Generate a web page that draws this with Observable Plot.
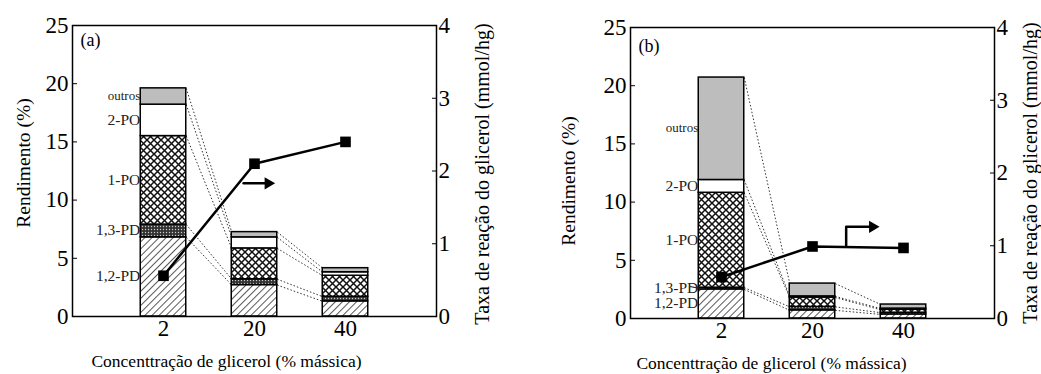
<!DOCTYPE html>
<html><head><meta charset="utf-8">
<script src="https://cdn.jsdelivr.net/npm/d3@7"></script>
<script src="https://cdn.jsdelivr.net/npm/@observablehq/plot@0.6"></script>
<style>
body{margin:0;background:#fff;}
#wrap{position:relative;width:1041px;height:374px;overflow:hidden;}
#wrap svg{position:absolute;top:0;}
#wrap svg, #wrap svg text{font-family:"Liberation Serif","DejaVu Serif",serif !important;}
</style></head><body><div id="wrap"></div>
<script>
// ---- data ----
const concentrations = ["2", "20", "40"];
const components = ["1,2-PD", "1,3-PD", "1-PO", "2-PO", "outros"];
// panel (a) yields (%) per component, one value per concentration
const a_12PD   = [6.8, 2.7, 1.3];
const a_13PD   = [1.1, 0.5, 0.4];
const a_1PO    = [7.6, 2.65, 1.8];
const a_2PO    = [2.7, 0.95, 0.3];
const a_outros = [1.4, 0.45, 0.35];
const a_rate   = [0.56, 2.10, 2.40];
// panel (b)
const b_12PD   = [2.5, 0.7, 0.35];
const b_13PD   = [0.15, 0.3, 0.15];
const b_1PO    = [8.15, 0.8, 0.25];
const b_2PO    = [1.1, 0.1, 0.1];
const b_outros = [8.8, 1.1, 0.35];
const b_rate   = [0.57, 0.99, 0.97];
const leftTicks = [0, 5, 10, 15, 20, 25];
const rightTicks = [0, 1, 2, 3, 4];
const xTitle = "Concenttração de glicerol (% mássica)";
const yTitle = "Rendimento (%)";
const y2Title = "Taxa de reação do glicerol (mmol/hg)";
// arrows pointing to the right axis (x in category units, rate units)
const arrowA = [{x: 1.88, r: 1.83}, {x: 2.15, r: 1.83}];
const arrowB = [{x: 2.37, r: 0.985}, {x: 2.37, r: 1.26}, {x: 2.66, r: 1.26}];

const K = 25 / 4; // right axis -> left axis units
const HW = 0.25;  // half bar width in category units

function addDefs(svg, p) {
  const defs = d3.select(svg).insert("defs", ":first-child");
  const d = defs.append("pattern").attr("id", p + "-diag").attr("patternUnits", "userSpaceOnUse")
    .attr("width", 5).attr("height", 5).attr("patternTransform", "rotate(45)");
  d.append("rect").attr("width", 5).attr("height", 5).attr("fill", "white");
  d.append("line").attr("x1", 0).attr("y1", 0).attr("x2", 0).attr("y2", 5).attr("stroke", "#111").attr("stroke-width", 1.4);
  const c = defs.append("pattern").attr("id", p + "-cross").attr("patternUnits", "userSpaceOnUse")
    .attr("width", 7).attr("height", 7);
  c.append("rect").attr("width", 7).attr("height", 7).attr("fill", "white");
  c.append("path").attr("d", "M0,0L7,7M7,0L0,7").attr("stroke", "#111").attr("stroke-width", 1.5);
  const n = defs.append("pattern").attr("id", p + "-dense").attr("patternUnits", "userSpaceOnUse")
    .attr("width", 3).attr("height", 3);
  n.append("rect").attr("width", 3).attr("height", 3).attr("fill", "#333");
  n.append("circle").attr("cx", 1.5).attr("cy", 1.5).attr("r", 0.7).attr("fill", "#ccc");
}

function panel(cfg) {
  const p = cfg.id;
  const fills = [`url(#${p}-diag)`, `url(#${p}-dense)`, `url(#${p}-cross)`, "white", "#bdbdbd"];
  const rows = [];
  concentrations.forEach((c, i) => {
    let base = 0;
    components.forEach((k, j) => {
      const v = cfg.values[j][i];
      rows.push({conc: c, pos: i + 1, comp: k, j, y1: base, y2: base + v});
      base += v;
    });
  });
  // dotted connectors between consecutive bars (segment tops)
  const links = [];
  for (let i = 0; i < 2; i++) {
    components.forEach((k, j) => {
      const a = rows.find(r => r.pos === i + 1 && r.j === j);
      const b = rows.find(r => r.pos === i + 2 && r.j === j);
      links.push({x1: i + 1 + HW, y1: a.y2, x2: i + 2 - HW, y2: b.y2});
    });
  }
  const rate = cfg.rate.map((r, i) => ({pos: i + 1, r}));
  const labels = rows.filter(r => r.pos === 1).map(r => ({...r, mid: (r.y1 + r.y2) / 2}));
  const marks = [
    Plot.link(links, {x1: "x1", y1: "y1", x2: "x2", y2: "y2", stroke: "#333", strokeWidth: 1, strokeDasharray: "1.5,2"}),
    ...components.map((k, j) => Plot.rect(rows.filter(r => r.j === j), {
      x1: d => d.pos - HW, x2: d => d.pos + HW, y1: "y1", y2: "y2",
      fill: fills[j], stroke: "black", strokeWidth: 1.5
    })),
    Plot.text(labels, {x: 1 - HW, y: "mid", text: "comp", textAnchor: "end", dx: d => cfg.labelDx[d.j], dy: d => cfg.labelDy[d.j],
      fontSize: d => d.j === 4 ? 13 : 15.5, fontWeight: d => d.j === 4 ? "bold" : "normal", fill: "#222"}),
    Plot.line(rate, {x: "pos", y: d => d.r * K, stroke: "black", strokeWidth: 2.5}),
    Plot.dot(rate, {x: "pos", y: d => d.r * K, symbol: "square", r: 6, fill: "black"}),
    Plot.line(cfg.arrow, {x: "x", y: d => d.r * K, stroke: "black", strokeWidth: 2.5}),
    Plot.dot(cfg.arrow.slice(-1), {x: "x", y: d => d.r * K, symbol: "triangle", rotate: 90, r: 4.5, fill: "black"}),
    Plot.frame({stroke: "black", strokeWidth: 1.5}),
    Plot.axisY(leftTicks, {anchor: "left", tickSize: -5, tickPadding: 9, fontSize: 23, label: null, tickFormat: d => d}),
    Plot.axisY(rightTicks.map(t => t * K), {anchor: "right", tickSize: -5, tickPadding: 7, fontSize: 23, label: null, tickFormat: d => d / K}),
    Plot.axisX([1, 2, 3], {tickSize: 0, tickPadding: 3, fontSize: 23, label: null, tickFormat: i => concentrations[i - 1]}),
    Plot.text([yTitle], {frameAnchor: "left", textAnchor: "middle", lineAnchor: "middle", dx: cfg.yTitleDx, dy: cfg.yTitleDy, rotate: -90, fontSize: 19.5}),
    Plot.text([y2Title], {frameAnchor: "right", textAnchor: "middle", lineAnchor: "middle", dx: cfg.y2TitleDx, dy: cfg.y2TitleDy, rotate: -90, fontSize: 20}),
    Plot.text([xTitle], {frameAnchor: "bottom", textAnchor: "middle", lineAnchor: "middle", dx: cfg.xTitleDx, dy: 45, fontSize: 17.5}),
    Plot.text([cfg.tag], {frameAnchor: "top-left", dx: 8, dy: cfg.tagDy, textAnchor: "start", lineAnchor: "middle", fontSize: 18})
  ];
  if (cfg.leader) marks.push(Plot.link([cfg.leader], {x1: "x1", y1: "y1", x2: "x2", y2: "y2", stroke: "#222", strokeWidth: 1.2}));
  const svg = Plot.plot({
    width: cfg.width, height: 374,
    marginLeft: 72, marginRight: cfg.width - 72 - 364, marginTop: cfg.top, marginBottom: 374 - cfg.top - 291,
    style: {color: "black", background: "transparent"},
    x: {domain: [0, 4], axis: null},
    y: {domain: [0, 25], axis: null},
    marks
  });
  addDefs(svg, p);
  svg.style.left = cfg.left + "px";
  document.getElementById("wrap").appendChild(svg);
}

panel({id: "a", tag: "(a)", left: 0, width: 540, top: 25,
  values: [a_12PD, a_13PD, a_1PO, a_2PO, a_outros], rate: a_rate, arrow: arrowA,
  labelDx: [-1, -1, -1, -1, -3], labelDy: [0, 0, 0, 0, 0],
  yTitleDx: -49, yTitleDy: -8, y2TitleDx: 46, y2TitleDy: 3, xTitleDx: -28, tagDy: 15});
panel({id: "b", tag: "(b)", left: 558, width: 483, top: 27,
  values: [b_12PD, b_13PD, b_1PO, b_2PO, b_outros], rate: b_rate, arrow: arrowB,
  labelDx: [-1, -10, -1, -1, -3], labelDy: [0, -2, -13, 0, 0],
  yTitleDx: -62, yTitleDy: 8, y2TitleDx: 36, y2TitleDy: 0, xTitleDx: -41, tagDy: 19,
  leader: {x1: 0.75 - 9 / 91, y1: 2.75, x2: 0.82, y2: 2.5}});
</script></body></html>
